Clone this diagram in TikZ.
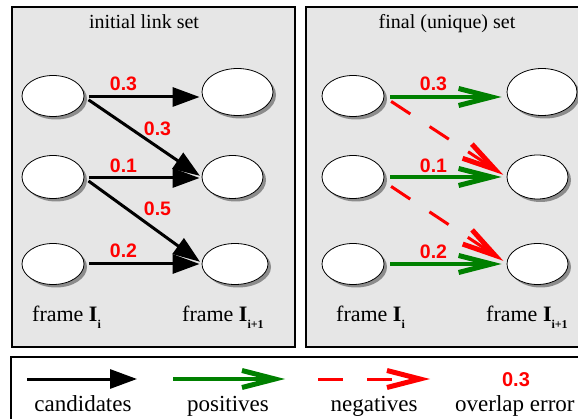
\documentclass[tikz,border=0pt]{standalone}
\usepackage{fontspec}
\setmainfont{Liberation Serif}
\setsansfont{Liberation Sans}
\usetikzlibrary{arrows.meta,shapes.geometric,shadows}
\definecolor{panelgray}{HTML}{E6E6E6}
\definecolor{shadowgray}{HTML}{8C8C8C}
\definecolor{posgreen}{HTML}{008000}
\newcommand{\frameI}[1]{frame \textbf{I}\raisebox{-7pt}{\fontsize{12}{12}\selectfont\bfseries #1}}
\begin{document}
\begin{tikzpicture}[x=1pt,y=-1pt,
  panel/.style={draw=black, line width=1.2pt, fill=panelgray},
  blob/.style={ellipse, draw=black, line width=0.8pt, fill=white, inner sep=0pt,
    drop shadow={shadow xshift=3pt, shadow yshift=-3pt, fill=shadowgray, opacity=1}},
  candlink/.style={draw=black, line width=3pt, -{Triangle[length=27pt,width=19pt]}},
  poslink/.style={draw=posgreen, line width=3.5pt, -{Straight Barb[length=33pt,width=17pt,line width=5pt 0]}},
  neglink/.style={draw=red, line width=3pt, dash pattern=on 23pt off 23pt, -{Straight Barb[length=33pt,width=17pt,line width=5pt 0]}},
  num/.style={text=red, font=\sffamily\bfseries\fontsize{19.5}{19.5}\selectfont, inner sep=0pt},
  title/.style={font=\fontsize{20}{20}\selectfont, inner sep=0pt, anchor=base},
  flabel/.style={font=\fontsize{22}{22}\selectfont, inner sep=0pt, anchor=base west},
  legtext/.style={font=\fontsize{23}{23}\selectfont, inner sep=0pt, anchor=base},
]
\useasboundingbox (0,0) rectangle (578,419);
\clip (0,0) rectangle (578,419);
% panels
\draw[panel] (12,7) rectangle (295,347);
\draw[panel] (306,7) rectangle (590,347);
\draw[line width=1.2pt, fill=white] (11,357) rectangle (590,440);

% titles
\node[title] (t1) at (144,29) {initial link set};
\node[title] (t2) at (447,29) {final (unique) set};

% left panel ellipses
\node[blob, minimum width=62pt, minimum height=41pt] (a1) at (53,96) {};
\node[blob, minimum width=62pt, minimum height=43pt] (a2) at (53,177) {};
\node[blob, minimum width=62pt, minimum height=41pt] (a3) at (53,264) {};
\node[blob, minimum width=71pt, minimum height=47pt] (b1) at (237.5,92) {};
\node[blob, minimum width=61pt, minimum height=43pt] (b2) at (232.5,177) {};
\node[blob, minimum width=66pt, minimum height=41pt] (b3) at (235,264) {};

% right panel ellipses
\node[blob, minimum width=62pt, minimum height=41pt] (p1) at (353,96) {};
\node[blob, minimum width=62pt, minimum height=43pt] (p2) at (353,177) {};
\node[blob, minimum width=62pt, minimum height=41pt] (p3) at (353,264) {};
\node[blob, minimum width=70pt, minimum height=47pt] (q1) at (542,92) {};
\node[blob, minimum width=61pt, minimum height=44pt] (q2) at (537.5,177) {};
\node[blob, minimum width=61pt, minimum height=41pt] (q3) at (537.5,264) {};

% candidate links
\draw[candlink, shorten <=5pt, shorten >=2pt] ([yshift=-1pt]a1.east) -- ([yshift=-1pt]a1.east -| b1.west);
\draw[candlink, shorten <=5pt, shorten >=2pt] ([yshift=-1pt]a2.east) -- ([yshift=-1pt]a2.east -| b2.west);
\draw[candlink, shorten <=5pt, shorten >=2pt] (a3.east) -- (a3.east -| b3.west);
\draw[candlink, shorten <=5pt, shorten >=2pt] ([yshift=-1pt]a1.east) -- (b2.west);
\draw[candlink, shorten <=5pt, shorten >=2pt] ([yshift=-1pt]a2.east) -- ([yshift=1pt]b3.west);

% positives and negatives
\draw[neglink, shorten <=8pt, shorten >=4pt] ([yshift=-1pt]p1.east) -- (q2.west);
\draw[neglink, shorten <=8pt, shorten >=4pt] ([yshift=-5pt]p2.east) -- ([yshift=1pt]q3.west);
\draw[poslink, shorten <=6pt, shorten >=5pt] ([yshift=-1pt]p1.east) -- ([yshift=-1pt]p1.east -| q1.west);
\draw[poslink, shorten <=6pt, shorten >=5pt] (p2.east) -- (p2.east -| q2.west);
\draw[poslink, shorten <=6pt, shorten >=5pt] (p3.east) -- (p3.east -| q3.west);

% overlap errors
\node[num] (e1) at (123.5,84) {0.3};
\node[num] (e2) at (157.5,128.5) {0.3};
\node[num] (e3) at (123.5,166) {0.1};
\node[num] (e4) at (157.5,209) {0.5};
\node[num] (e5) at (123.5,251) {0.2};
\node[num] (f1) at (433.5,84) {0.3};
\node[num] (f2) at (433.5,166) {0.1};
\node[num] (f3) at (433.5,252) {0.2};

% frame labels
\node[flabel] (l1) at (32,322) {\frameI{i}};
\node[flabel] (l2) at (182,322) {\frameI{i+1}};
\node[flabel] (l3) at (336,322) {\frameI{i}};
\node[flabel] (l4) at (486,322) {\frameI{i+1}};

% legend
\coordinate (c1) at (27,379);  \coordinate (c2) at (137,379);
\coordinate (g1) at (173,379); \coordinate (g2) at (285,379);
\coordinate (r1) at (318,379); \coordinate (r2) at (430,379);
\draw[candlink] (c1) -- (c2);
\draw[poslink] (g1) -- (g2);
\draw[neglink, dash pattern=on 25pt off 24pt] (r1) -- (r2);
\node[num, font=\sffamily\bfseries\fontsize{20}{20}\selectfont] (n1) at (516,380) {0.3};
\node[legtext] (k1) at (83,411) {candidates};
\node[legtext] (k2) at (228,411) {positives};
\node[legtext] (k3) at (374,411) {negatives};
\node[legtext, anchor=base west] (k4) at (455,411) {overlap error};
\end{tikzpicture}
\end{document}
